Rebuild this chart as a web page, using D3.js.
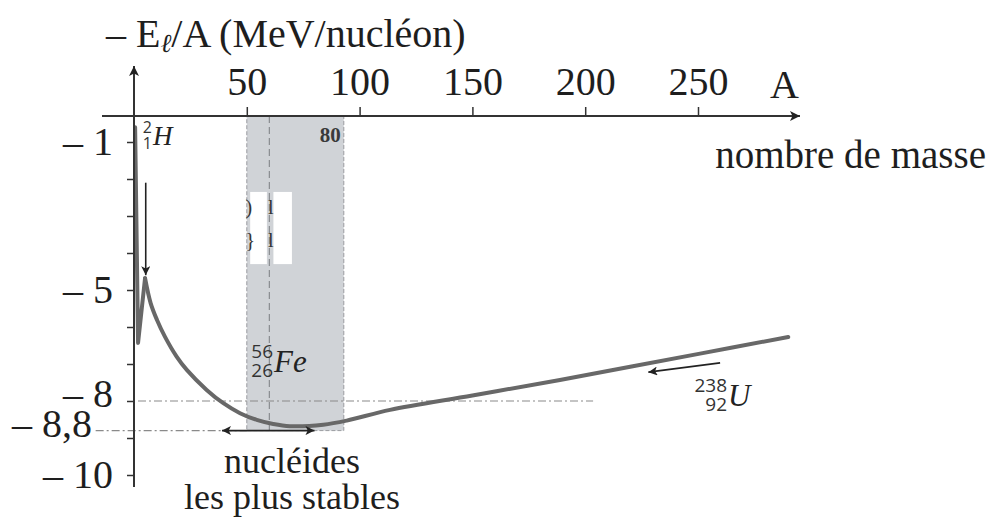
<!DOCTYPE html>
<html>
<head>
<meta charset="utf-8">
<script src="https://cdn.jsdelivr.net/npm/d3@7"></script>
<style>
  body { margin: 0; background: #fff; }
  svg { display: block; }
</style>
</head>
<body>
<div id="chart"></div>
<script>
// données
const massNumbers = [0.5, 1.8, 4.9, 7.4, 10.2, 13.7, 18.9, 23.4, 32.2, 39.6, 47.0, 54.4, 61.7, 69.1, 83.9, 94.3, 113.5, 150, 188.8, 250.9, 290];
const bindingPerNucleon = [-0.6, -6.43, -4.68, -5.36, -5.81, -6.26, -6.80, -7.16, -7.70, -8.06, -8.33, -8.51, -8.62, -8.68, -8.64, -8.53, -8.24, -7.85, -7.43, -6.72, -6.27];
const spikeEnd = 2;               // indice du pic : tracé anguleux avant, lisse après

const xTicks = [50, 100, 150, 200, 250];
const yTicks = [-1, -2, -3, -4, -5, -6, -7, -8, -9, -10];
const yLabelled = [-1, -5, -8, -10];
const extraYLabel = -8.8;

const stableBand = [50, 93];      // zone grisée
const ironMass = 60;              // tirets verticaux (Fe)
const ironLevel = -8;             // tirets horizontaux
const minLevel = -8.8;
const stableArrow = [39, 80];     // double flèche "nucléides les plus stables"
const hydrogenArrow = {A: 5.2, from: -2.1, to: -4.6};
const uraniumArrow = {from: [259.8, -6.97], to: [228, -7.22]};

const W = 990, H = 521;
const serif = "'Liberation Serif', 'Times New Roman', serif";
const sans = "'Open Sans', 'Noto Sans', sans-serif";
const ink = "#1e1e1e";

const x = d3.scaleLinear().domain([0, 250]).range([134, 698]);
const y = d3.scaleLinear().domain([-1, -10]).range([142, 475]);
const axisY = 116;

// format français : virgule décimale, tiret
const fr = d3.formatLocale({decimal: ",", thousands: " ", grouping: [3], currency: ["", "€"], minus: "– "});
const fmtY = fr.format("~g");

const svg = d3.select("#chart").append("svg")
    .attr("width", W)
    .attr("height", H)
    .style("font-family", serif);

svg.append("rect").attr("width", W).attr("height", H).attr("fill", "#fff");

const defs = svg.append("defs");
function addMarker(id, w, h) {
    defs.append("marker")
        .attr("id", id)
        .attr("viewBox", "0 0 10 10")
        .attr("refX", 10).attr("refY", 5)
        .attr("markerUnits", "userSpaceOnUse")
        .attr("markerWidth", w).attr("markerHeight", h)
        .attr("orient", "auto-start-reverse")
        .append("path")
        .attr("d", "M0,0 L10,5 L0,10 L2.5,5 z")
        .attr("fill", "#222");
}
addMarker("head", 16, 10);
addMarker("small", 13, 9);

// zone des noyaux les plus stables
svg.append("rect")
    .attr("x", x(stableBand[0]))
    .attr("y", axisY)
    .attr("width", x(stableBand[1]) - x(stableBand[0]))
    .attr("height", y(minLevel) - axisY)
    .attr("fill", "#d0d3d7")
    .attr("stroke", "#9a9ca0")
    .attr("stroke-width", 1)
    .attr("stroke-dasharray", "4,2");

svg.append("line")
    .attr("x1", x(ironMass)).attr("x2", x(ironMass))
    .attr("y1", axisY).attr("y2", y(minLevel))
    .attr("stroke", "#8a8c90").attr("stroke-width", 1.2)
    .attr("stroke-dasharray", "7,4");

// taches blanches (retouche de l'image), de part et d'autre des tirets
svg.append("g")
    .attr("fill", "#fff")
    .selectAll("rect")
    .data([[51.5, 58.9], [61.8, 70]])
    .join("rect")
    .attr("x", d => x(d[0])).attr("y", y(-2.35))
    .attr("width", d => x(d[1]) - x(d[0])).attr("height", y(-4.3) - y(-2.35));
svg.append("g")
    .attr("font-size", 20).attr("fill", "#333")
    .selectAll("text")
    .data([[49.4, -2.95, ")"], [59.4, -2.95, "l"], [49.4, -3.85, "}"], [59.4, -3.85, "l"]])
    .join("text")
    .attr("x", d => x(d[0])).attr("y", d => y(d[1]))
    .text(d => d[2]);

svg.append("text")
    .attr("x", x(stableBand[1]) - 3)
    .attr("y", axisY + 26)
    .attr("text-anchor", "end")
    .attr("font-size", 21)
    .attr("font-weight", "bold")
    .attr("fill", "#3a3a3a")
    .text("80");

// lignes de repère
svg.append("line")
    .attr("x1", x(0) + 4).attr("x2", x(203.5))
    .attr("y1", y(ironLevel)).attr("y2", y(ironLevel))
    .attr("stroke", "#8a8a8a").attr("stroke-width", 1.2)
    .attr("stroke-dasharray", "8,3,2,3");

svg.append("line")
    .attr("x1", x(-17)).attr("x2", x(50))
    .attr("y1", y(minLevel)).attr("y2", y(minLevel))
    .attr("stroke", "#8a8a8a").attr("stroke-width", 1.2)
    .attr("stroke-dasharray", "8,3,2,3");

// courbe : pic anguleux puis décroissance lisse
const points = massNumbers.map((A, i) => [A, bindingPerNucleon[i]]);
const sharp = d3.line().x(d => x(d[0])).y(d => y(d[1]));
const smooth = d3.line().x(d => x(d[0])).y(d => y(d[1])).curve(d3.curveCatmullRom.alpha(0.5));

svg.append("g")
    .attr("fill", "none")
    .attr("stroke", "#686868")
    .attr("stroke-width", 4)
    .attr("stroke-linejoin", "round")
    .attr("stroke-linecap", "round")
    .selectAll("path")
    .data([sharp(points.slice(0, spikeEnd + 1)), smooth(points.slice(spikeEnd))])
    .join("path")
    .attr("d", d => d);

// axes
svg.append("line")
    .attr("x1", 102).attr("x2", 800)
    .attr("y1", axisY).attr("y2", axisY)
    .attr("stroke", "#333").attr("stroke-width", 2)
    .attr("marker-end", "url(#head)");

svg.append("line")
    .attr("x1", x(0)).attr("x2", x(0))
    .attr("y1", 487).attr("y2", 66)
    .attr("stroke", "#333").attr("stroke-width", 2)
    .attr("marker-end", "url(#head)");

const xAxis = svg.append("g")
    .attr("transform", `translate(0,${axisY})`)
    .call(d3.axisTop(x).tickValues(xTicks).tickSize(9).tickPadding(12))
    .call(g => g.select(".domain").remove());
xAxis.selectAll(".tick line").attr("stroke", "#333").attr("stroke-width", 1.5);
xAxis.selectAll(".tick text")
    .attr("font-family", serif).attr("font-size", 40).attr("fill", ink);

const yAxis = svg.append("g")
    .attr("transform", `translate(${x(0)},0)`)
    .call(d3.axisLeft(y).tickValues(yTicks).tickSize(7).tickPadding(14)
        .tickFormat(d => yLabelled.includes(d) ? fmtY(d) : ""))
    .call(g => g.select(".domain").remove());
yAxis.selectAll(".tick line").attr("stroke", "#333").attr("stroke-width", 1.5);
yAxis.selectAll(".tick text")
    .attr("font-family", serif).attr("font-size", 40).attr("fill", ink)
    .attr("xml:space", "preserve")
    .attr("dy", d => d === ironLevel ? "0.14em" : "0.3em");

svg.append("text")
    .attr("x", x(0) - 42).attr("y", y(extraYLabel))
    .attr("dy", "0.16em")
    .attr("text-anchor", "end")
    .attr("xml:space", "preserve")
    .attr("font-size", 40).attr("fill", ink)
    .text(fmtY(extraYLabel));

// titres d'axes
const title = svg.append("text")
    .attr("x", 106).attr("y", 47)
    .attr("xml:space", "preserve")
    .attr("font-size", 40).attr("fill", ink);
title.append("tspan").text("– E");
title.append("tspan").attr("font-style", "italic").attr("font-size", 26).attr("dy", 5).text("ℓ");
title.append("tspan").attr("dy", -5).text("/A (MeV/nucléon)");

svg.append("text")
    .attr("x", 770).attr("y", 98)
    .attr("font-size", 40).attr("fill", ink)
    .text("A");

svg.append("text")
    .attr("x", 986).attr("y", 168)
    .attr("text-anchor", "end")
    .attr("font-size", 39).attr("fill", ink)
    .text("nombre de masse");

// flèches
svg.append("line")
    .attr("x1", x(stableArrow[0])).attr("x2", x(stableArrow[1]))
    .attr("y1", y(minLevel)).attr("y2", y(minLevel))
    .attr("stroke", "#222").attr("stroke-width", 1.6)
    .attr("marker-start", "url(#small)")
    .attr("marker-end", "url(#small)");

svg.append("line")
    .attr("x1", x(hydrogenArrow.A)).attr("x2", x(hydrogenArrow.A))
    .attr("y1", y(hydrogenArrow.from)).attr("y2", y(hydrogenArrow.to))
    .attr("stroke", "#222").attr("stroke-width", 1.6)
    .attr("marker-end", "url(#small)");

svg.append("line")
    .attr("x1", x(uraniumArrow.from[0])).attr("y1", y(uraniumArrow.from[1]))
    .attr("x2", x(uraniumArrow.to[0])).attr("y2", y(uraniumArrow.to[1]))
    .attr("stroke", "#222").attr("stroke-width", 1.6)
    .attr("marker-end", "url(#small)");

// étiquettes des noyaux
function nuclide(px, py, mass, charge, symbol, size) {
    const g = svg.append("g").attr("transform", `translate(${px},${py})`);
    const numSize = Math.round(size * 0.6);
    g.append("text")
        .attr("x", 0).attr("y", -size * 0.45)
        .attr("text-anchor", "end")
        .attr("font-family", sans).attr("font-size", numSize).attr("fill", "#333")
        .text(mass);
    g.append("text")
        .attr("x", 0).attr("y", size * 0.15)
        .attr("text-anchor", "end")
        .attr("font-family", sans).attr("font-size", numSize).attr("fill", "#333")
        .text(charge);
    g.append("text")
        .attr("x", 1).attr("y", 0)
        .attr("font-style", "italic").attr("font-size", size).attr("fill", "#222")
        .text(symbol);
}
nuclide(152, 145, "2", "1", "H", 27);
nuclide(273, 372, "56", "26", "Fe", 31);
nuclide(727, 406, "238", "92", "U", 31);

// légende sous la courbe
svg.append("text")
    .attr("x", 292).attr("y", 473)
    .attr("text-anchor", "middle")
    .attr("font-size", 36).attr("fill", ink)
    .text("nucléides");
svg.append("text")
    .attr("x", 292).attr("y", 509)
    .attr("text-anchor", "middle")
    .attr("font-size", 36).attr("fill", ink)
    .text("les plus stables");
</script>
</body>
</html>
